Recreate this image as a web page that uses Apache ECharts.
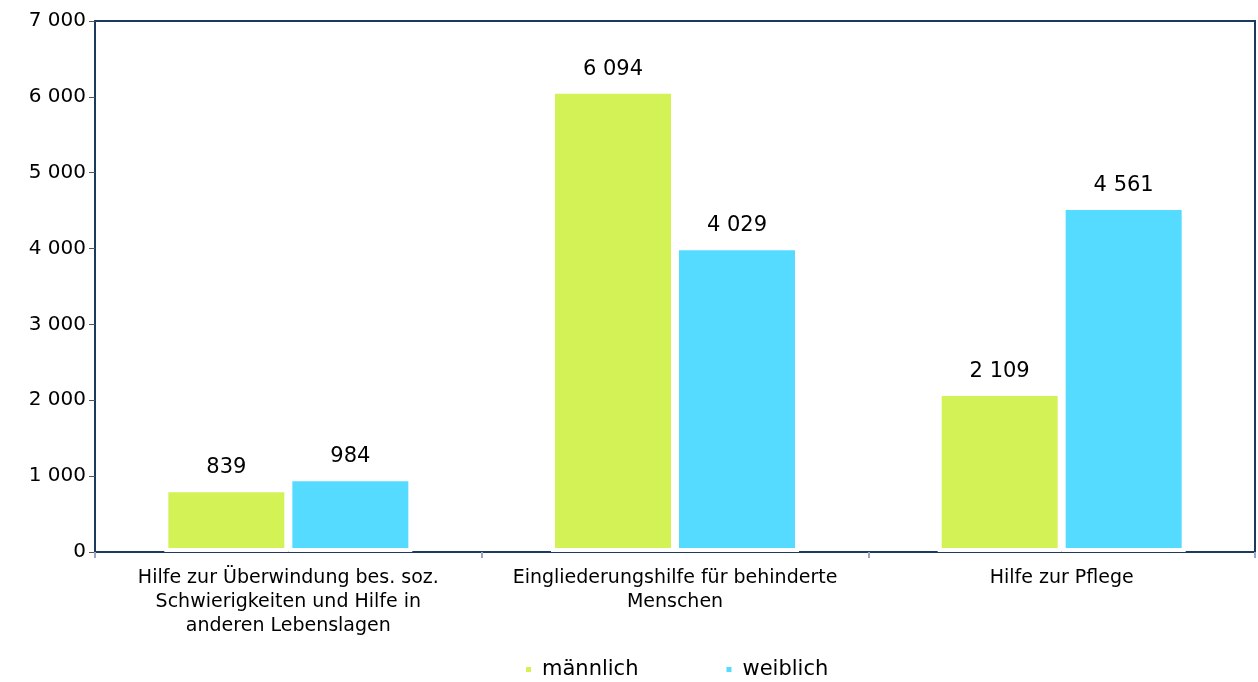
<!DOCTYPE html>
<html>
<head>
<meta charset="utf-8">
<script src="https://cdn.jsdelivr.net/npm/echarts@6/dist/echarts.min.js"></script>
<style>html,body{margin:0;padding:0;background:#fff;}#c{width:1258px;height:682px;}</style>
</head>
<body>
<div id="c"></div>
<script>
const categories = [
  "Hilfe zur Überwindung bes. soz.\nSchwierigkeiten und Hilfe in\nanderen Lebenslagen",
  "Eingliederungshilfe für behinderte\nMenschen",
  "Hilfe zur Pflege"
];
const maennlich = [839, 6094, 2109];
const weiblich = [984, 4029, 4561];
const seriesNames = ["männlich", "weiblich"];
const yTicks = [0, 1000, 2000, 3000, 4000, 5000, 6000, 7000];

const fmt = v => String(v).replace(/\B(?=(\d{3})+(?!\d))/g, " ");
const FONT = "DejaVu Sans";
const chart = echarts.init(document.getElementById('c'), null, {renderer: 'canvas'});
const labelCfg = {show: true, position: 'top', distance: 10, color: '#000', fontFamily: FONT, fontSize: 21, formatter: p => fmt(p.value)};
chart.setOption({
  animation: false,
  textStyle: {fontFamily: FONT},
  grid: {left: 95, right: 3, top: 21, bottom: 130, show: true, borderColor: '#1b3a5e', borderWidth: 2, containLabel: false},
  legend: {
    data: seriesNames, bottom: 2, left: 524, padding: 0, itemWidth: 7, itemHeight: 7, itemGap: 86,
    icon: 'rect', textStyle: {fontFamily: FONT, fontSize: 21, color: '#000', padding: [0, 0, 0, 5]}
  },
  xAxis: {
    type: 'category', data: categories,
    axisLine: {lineStyle: {color: '#1b3a5e', width: 2}},
    axisTick: {show: true, length: 6, lineStyle: {color: '#9aa9bd', width: 2}},
    axisLabel: {fontFamily: FONT, fontSize: 19, color: '#000', lineHeight: 24, margin: 14, interval: 0}
  },
  yAxis: {
    type: 'value', min: 0, max: yTicks[yTicks.length - 1], interval: 1000,
    axisLine: {show: true, lineStyle: {color: '#1b3a5e', width: 2}},
    axisTick: {show: true, inside: false, length: 6, lineStyle: {color: '#555'}},
    splitLine: {show: false},
    axisLabel: {fontFamily: FONT, fontSize: 20, color: '#000', margin: 9, formatter: v => fmt(v)}
  },
  series: [
    {name: seriesNames[0], type: 'bar', data: maennlich, barWidth: 124, barGap: '0%',
     itemStyle: {color: '#d3f256', borderColor: '#fff', borderWidth: 4}, label: labelCfg},
    {name: seriesNames[1], type: 'bar', data: weiblich, barWidth: 124, barGap: '0%',
     itemStyle: {color: '#55dbff', borderColor: '#fff', borderWidth: 4}, label: labelCfg}
  ]
});
</script>
</body>
</html>
